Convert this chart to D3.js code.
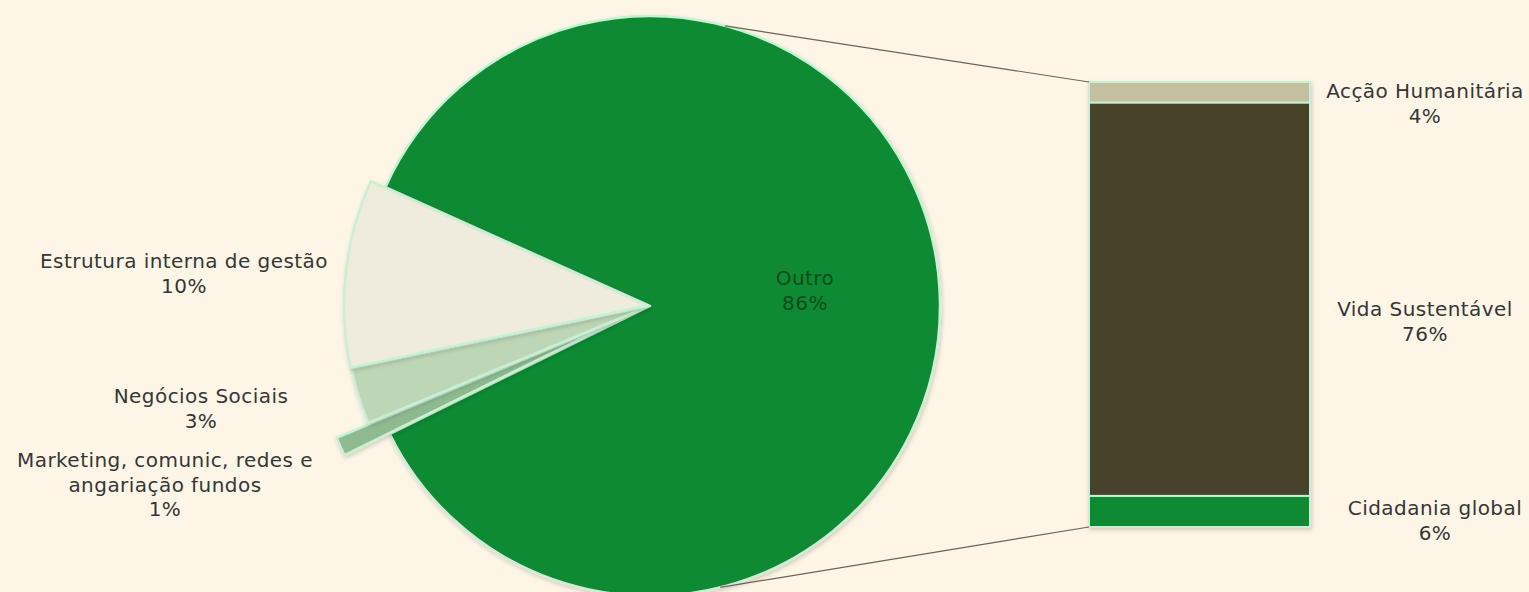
<!DOCTYPE html>
<html lang="pt">
<head>
<meta charset="UTF-8">
<title>Pie of bar</title>
<script src="https://d3js.org/d3.v7.min.js"></script>
<style>
  body { margin: 0; background: #fdf6e7; }
  svg { display: block; }
  .label { font-family: "DejaVu Sans", Verdana, sans-serif; font-size: 20px; letter-spacing: 0.45px; fill: #363636; text-anchor: middle; }
  .label.inner { fill: #0d4a1d; }
  .conn { stroke: #6d6058; stroke-width: 1.2px; fill: none; }
</style>
</head>
<body>
<svg id="chart" width="1529" height="592"></svg>
<script>
// main pie
const pieLabels = [["Outro"], ["Marketing, comunic, redes e", "angariação fundos"], ["Negócios Sociais"], ["Estrutura interna de gestão"]];
const pieValues = [86, 1, 3, 10];
const pieColors = ["#0a8a32", "#8fba90", "#bdd6b5", "#efebdd"];

// breakdown of "Outro" in the bar
const barLabels = ["Acção Humanitária", "Vida Sustentável", "Cidadania global"];
const barValues = [4, 76, 6];
const barColors = ["#c3bf9f", "#4a4229", "#0a8a32"];

const width = 1529, height = 592;
const cx = 650, cy = 306, r = 290;
const svg = d3.select("#chart");

const deg = Math.PI / 180;
const pie = d3.pie().sort(null).value(d => d)
    .startAngle(294.2 * deg).endAngle(294.2 * deg + 2 * Math.PI);
const arcs = pie(pieValues);

// explode + radius per slice (small slices sit slightly out)
const explode = [0, 38, 3, 3];
const radius = [r, 302, 302, 303];

const g = svg.append("g").attr("transform", `translate(${cx},${cy})`);

const defs = svg.append("defs");
defs.append("filter").attr("id", "shadow")
    .attr("x", "-10%").attr("y", "-10%").attr("width", "120%").attr("height", "120%")
  .append("feDropShadow").attr("dx", 1).attr("dy", 2).attr("stdDeviation", 2)
    .attr("flood-color", "#000").attr("flood-opacity", 0.18);

g.selectAll("path.slice")
  .data(arcs)
  .join("path")
    .attr("class", "slice")
    .attr("d", (d, i) => d3.arc().innerRadius(0).outerRadius(radius[i])(d))
    .attr("transform", (d, i) => {
        const a = (d.startAngle + d.endAngle) / 2;
        return `translate(${Math.sin(a) * explode[i]},${-Math.cos(a) * explode[i]})`;
    })
    .attr("fill", (d, i) => pieColors[i])
    .attr("stroke", "#c9efd4")
    .attr("stroke-width", 2.5)
    .attr("stroke-linejoin", "round")
    .attr("filter", "url(#shadow)");

// bar
const barX = 1089, barW = 221;
const y = d3.scaleLinear().domain([0, d3.sum(barValues)]).range([82, 527]);
const stacks = [];
let acc = 0;
barValues.forEach((v, i) => { stacks.push({ i, y0: acc, y1: acc + v }); acc += v; });

svg.append("g").attr("filter", "url(#shadow)")
  .selectAll("rect")
  .data(stacks)
  .join("rect")
    .attr("x", barX)
    .attr("width", barW)
    .attr("y", d => y(d.y0))
    .attr("height", d => y(d.y1) - y(d.y0))
    .attr("fill", d => barColors[d.i])
    .attr("stroke", "#c9efd4")
    .attr("stroke-width", 2);

// connector lines
const topA = 15 * deg, botA = 166 * deg;
svg.append("line").attr("class", "conn")
    .attr("x1", cx + Math.sin(topA) * r).attr("y1", cy - Math.cos(topA) * r)
    .attr("x2", barX).attr("y2", y(0));
svg.append("line").attr("class", "conn")
    .attr("x1", cx + Math.sin(botA) * r).attr("y1", cy - Math.cos(botA) * r)
    .attr("x2", barX).attr("y2", y(d3.sum(barValues)));

// pie labels
const pieLabelPos = [[805, 285], [165, 467], [201, 403], [184, 268]];
const lh = 24.5;
pieLabels.forEach((lines, i) => {
    const t = svg.append("text").attr("class", i === 0 ? "label inner" : "label");
    const all = lines.concat([pieValues[i] + "%"]);
    all.forEach((s, k) => {
        t.append("tspan").attr("x", pieLabelPos[i][0]).attr("y", pieLabelPos[i][1] + k * lh).text(s);
    });
});

// bar labels
const barLabelPos = [[1425, 98], [1425, 316], [1435, 515]];
barLabels.forEach((s, i) => {
    const t = svg.append("text").attr("class", "label");
    t.append("tspan").attr("x", barLabelPos[i][0]).attr("y", barLabelPos[i][1]).text(s);
    t.append("tspan").attr("x", barLabelPos[i][0]).attr("y", barLabelPos[i][1] + lh).text(barValues[i] + "%");
});
</script>
</body>
</html>
